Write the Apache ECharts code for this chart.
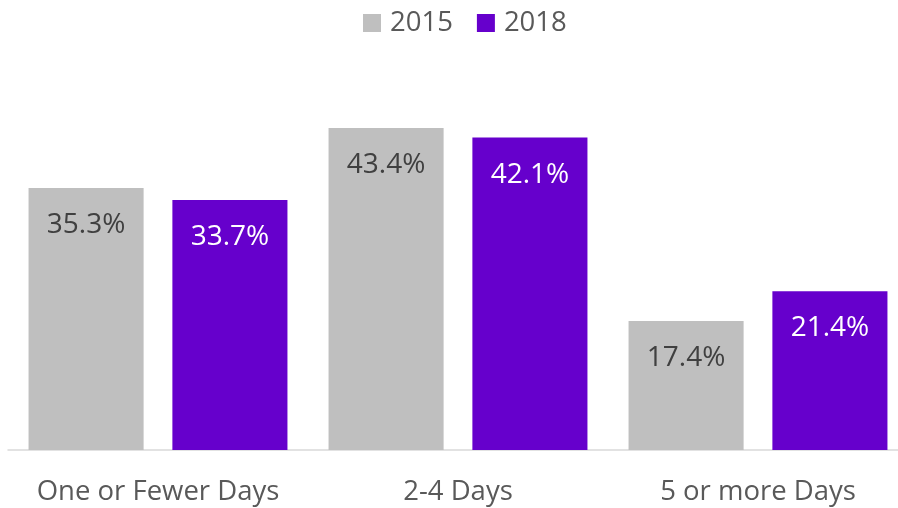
<!DOCTYPE html>
<html><head><meta charset="utf-8">
<script src="https://cdn.jsdelivr.net/npm/echarts@6/dist/echarts.min.js"></script>
<style>html,body{margin:0;padding:0;background:#fff}#c{width:898px;height:508px}</style>
</head><body><div id="c"></div>
<script>
const categories = ['One or Fewer Days', '2-4 Days', '5 or more Days'];
const values2015 = [35.3, 43.4, 17.4];
const values2018 = [33.7, 42.1, 21.4];
const seriesNames = ['2015', '2018'];
const FONT = '"Open Sans", sans-serif';
const chart = echarts.init(document.getElementById('c'));
chart.setOption({
  animation: false,
  textStyle: { fontFamily: FONT },
  legend: {
    top: 4, left: 358, itemWidth: 18, itemHeight: 18, itemGap: 24,
    icon: 'rect',
    textStyle: { fontSize: 27.5, color: '#595959', fontFamily: FONT, padding: [0, 0, 0, 4] },
    data: seriesNames
  },
  grid: { left: 8, right: -10, top: 79, bottom: 58, containLabel: false, outerBoundsMode: 'none' },
  xAxis: {
    type: 'category', data: categories,
    axisLine: { lineStyle: { color: '#d9d9d9', width: 1.5 } },
    axisTick: { show: false },
    axisLabel: { interval: 0, hideOverlap: false, fontSize: 27.5, color: '#595959', margin: 28, fontFamily: FONT }
  },
  yAxis: { type: 'value', min: 0, max: 50, show: false, splitLine: { show: false } },
  series: [
    { name: '2015', type: 'bar', data: values2015, barGap: '25%', barCategoryGap: '13.7%',
      itemStyle: { color: '#bfbfbf' },
      label: { show: true, position: 'insideTop', distance: 23, fontSize: 28, color: '#404040', fontFamily: FONT, formatter: p => p.value.toFixed(1) + '%' } },
    { name: '2018', type: 'bar', data: values2018, barGap: '25%', barCategoryGap: '13.7%',
      itemStyle: { color: '#6600cc' },
      label: { show: true, position: 'insideTop', distance: 23, fontSize: 28, color: '#ffffff', fontFamily: FONT, formatter: p => p.value.toFixed(1) + '%' } }
  ]
});
</script></body></html>
